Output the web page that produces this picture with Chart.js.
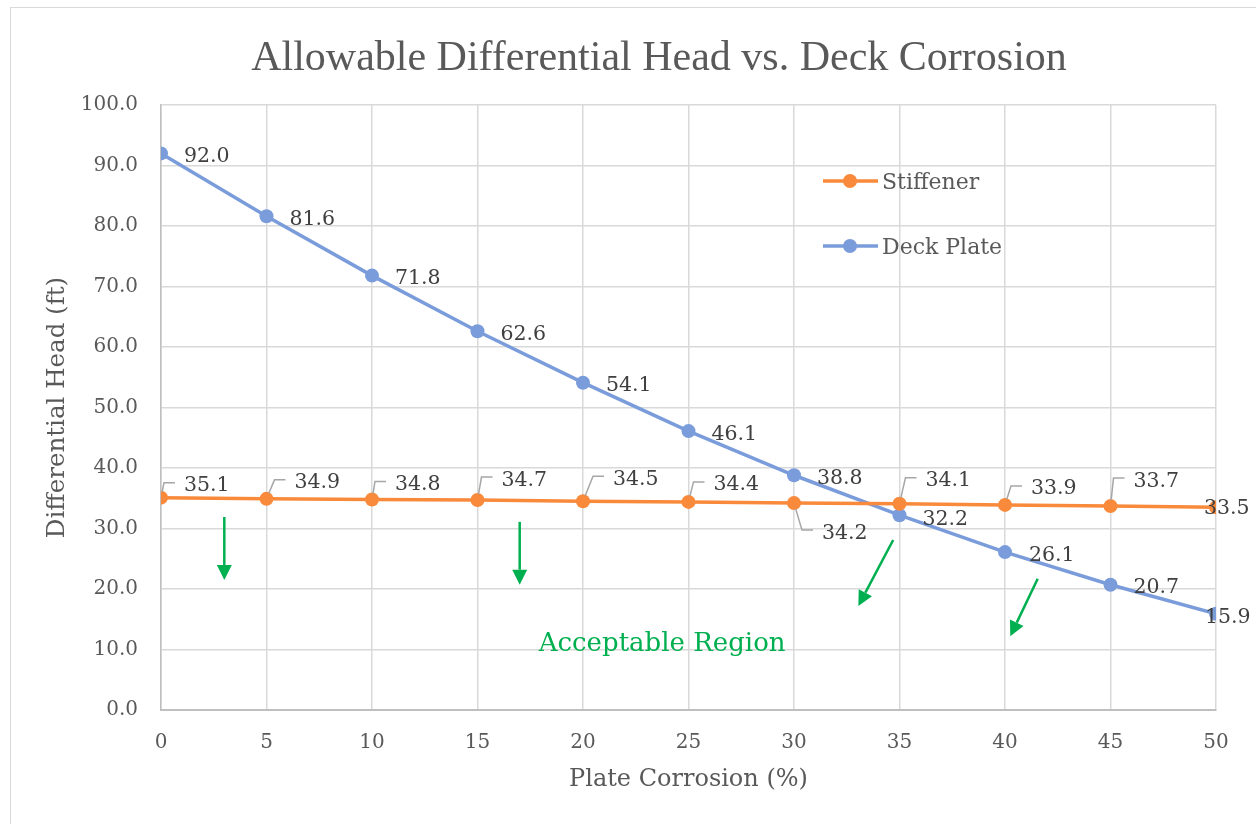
<!DOCTYPE html>
<html>
<head>
<meta charset="utf-8">
<title>Allowable Differential Head vs. Deck Corrosion</title>
<script src="https://cdn.jsdelivr.net/npm/chart.js@4.4.1/dist/chart.umd.min.js"></script>
<style>
  html, body { margin: 0; padding: 0; background: #ffffff; }
  #wrap { position: relative; width: 1256px; height: 824px; overflow: hidden; }
  #frame { position: absolute; left: 10px; top: 7px; width: 1300px; height: 900px;
           border: 1px solid #d9d9d9; box-sizing: border-box; pointer-events: none; }
  #c { position: absolute; left: 0; top: 0; }
</style>
</head>
<body>
<div id="wrap">
  <canvas id="c" width="1256" height="824" style="width:1256px;height:824px"></canvas>
  <div id="frame"></div>
</div>
<script>
// Plate corrosion (%) and the allowable head for each failure mode
const corrosion = [0, 5, 10, 15, 20, 25, 30, 35, 40, 45, 50];
const stiffener = [35.1, 34.9, 34.8, 34.7, 34.5, 34.4, 34.2, 34.1, 33.9, 33.7, 33.5];
const deckPlate = [92.0, 81.6, 71.8, 62.6, 54.1, 46.1, 38.8, 32.2, 26.1, 20.7, 15.9];

// Arrows pointing into the acceptable side of the curves (data coordinates)
const arrowTails = [[3.0, 31.9], [17.0, 31.1], [34.7, 28.1], [41.55, 21.7]];
const arrowTips  = [[3.0, 21.5], [17.0, 20.7], [33.05, 17.2], [40.25, 12.2]];
const regionText = 'Acceptable Region';
const regionAt = [23.75, 10.9];

const chartTitle = 'Allowable Differential Head vs. Deck Corrosion';

const FONT = '"DejaVu Serif", "Liberation Serif", serif';
const ORANGE = '#F98A3C';
const BLUE = '#7A9CDB';
const GREEN = '#00B050';

// Label offsets (px) from each point to the left / middle of its value text
const stiffenerLabelOffsets = [[23, -14], [28, -18], [23, -17], [24, -22], [30, -24], [25, -19],
                               [28, 28], [26, -25], [26, -18], [23, -27], [-12, -1]];
const deckLabelOffsets = [[23, 1], [23, 1], [23, 1], [23, 1], [23, 1], [23, 1],
                          [23, 1], [23, 2], [24, 1.5], [23, 1], [-11, 1.5]];

// Chart heading, centred over the whole frame
const heading = {
  id: 'heading',
  afterDraw(chart) {
    const ctx = chart.ctx;
    ctx.save();
    ctx.font = '42px "Liberation Serif", serif';
    ctx.fillStyle = '#595959';
    ctx.textAlign = 'center';
    ctx.textBaseline = 'alphabetic';
    ctx.fillText(chartTitle, 659, 70);
    ctx.restore();
  }
};

const pointLabels = {
  id: 'pointLabels',
  afterDatasetsDraw(chart, args, opts) {
    const ctx = chart.ctx;
    ctx.save();
    ctx.font = '20.5px ' + FONT;
    ctx.fillStyle = '#404040';
    ctx.textAlign = 'left';
    ctx.textBaseline = 'alphabetic';
    chart.data.datasets.forEach((ds, di) => {
      const meta = chart.getDatasetMeta(di);
      const cfg = opts.series[di];
      meta.data.forEach((pt, i) => {
        const [dx, dy] = cfg.offsets[i];
        const left = pt.x + dx;
        const mid = pt.y + dy;
        const txt = ds.data[i].y.toFixed(1);
        if (cfg.leader && i < meta.data.length - 1) {
          const cx = left - 20, cy = mid - 1;
          const ex = left - 9;
          const vx = cx - pt.x, vy = cy - pt.y;
          const len = Math.hypot(vx, vy);
          const sx = pt.x + vx / len * 6, sy = pt.y + vy / len * 6;
          ctx.save();
          ctx.strokeStyle = '#A6A6A6';
          ctx.lineWidth = 1.5;
          ctx.beginPath();
          ctx.moveTo(sx, sy);
          ctx.lineTo(cx, cy);
          ctx.lineTo(ex, cy);
          ctx.stroke();
          ctx.restore();
        }
        ctx.fillText(txt, left, mid + 7.5);
      });
    });
    ctx.restore();
  }
};

const regionNotes = {
  id: 'regionNotes',
  afterDatasetsDraw(chart) {
    const ctx = chart.ctx;
    const xs = chart.scales.x, ys = chart.scales.y;
    ctx.save();
    ctx.strokeStyle = GREEN;
    ctx.fillStyle = GREEN;
    ctx.lineWidth = 2.5;
    arrowTails.forEach((t, i) => {
      const x1 = xs.getPixelForValue(t[0]), y1 = ys.getPixelForValue(t[1]);
      const x2 = xs.getPixelForValue(arrowTips[i][0]), y2 = ys.getPixelForValue(arrowTips[i][1]);
      const ang = Math.atan2(y2 - y1, x2 - x1);
      const headLen = 15, headHalf = 7.5;
      const bx = x2 - Math.cos(ang) * headLen, by = y2 - Math.sin(ang) * headLen;
      ctx.beginPath();
      ctx.moveTo(x1, y1);
      ctx.lineTo(bx, by);
      ctx.stroke();
      ctx.beginPath();
      ctx.moveTo(x2, y2);
      ctx.lineTo(bx + Math.sin(ang) * headHalf, by - Math.cos(ang) * headHalf);
      ctx.lineTo(bx - Math.sin(ang) * headHalf, by + Math.cos(ang) * headHalf);
      ctx.closePath();
      ctx.fill();
    });
    ctx.font = '26px ' + FONT;
    ctx.textAlign = 'center';
    ctx.textBaseline = 'middle';
    ctx.fillText(regionText, xs.getPixelForValue(regionAt[0]), ys.getPixelForValue(regionAt[1]));
    ctx.restore();
  }
};

// Legend drawn inside the plot area, top right
const innerLegend = {
  id: 'innerLegend',
  afterDraw(chart) {
    const ctx = chart.ctx;
    const ca = chart.chartArea;
    const x0 = ca.left + 662, y0 = ca.top + 76, gap = 65;
    ctx.save();
    chart.data.datasets.forEach((ds, i) => {
      const y = y0 + i * gap;
      ctx.strokeStyle = ds.borderColor;
      ctx.lineWidth = 3.5;
      ctx.beginPath();
      ctx.moveTo(x0, y);
      ctx.lineTo(x0 + 55, y);
      ctx.stroke();
      ctx.fillStyle = ds.backgroundColor;
      ctx.beginPath();
      ctx.arc(x0 + 27, y, 7, 0, Math.PI * 2);
      ctx.fill();
      ctx.fillStyle = '#595959';
      ctx.font = '22px ' + FONT;
      ctx.textAlign = 'left';
      ctx.textBaseline = 'alphabetic';
      ctx.fillText(ds.label, x0 + 59, y + 8);
    });
    ctx.restore();
  }
};

const toPoints = ys => corrosion.map((x, i) => ({ x, y: ys[i] }));

new Chart(document.getElementById('c'), {
  type: 'line',
  data: {
    datasets: [
      { label: 'Stiffener', data: toPoints(stiffener), borderColor: ORANGE, backgroundColor: ORANGE,
        borderWidth: 3.5, pointRadius: 7, pointHoverRadius: 7, pointBorderWidth: 0, tension: 0 },
      { label: 'Deck Plate', data: toPoints(deckPlate), borderColor: BLUE, backgroundColor: BLUE,
        borderWidth: 3.5, pointRadius: 7, pointHoverRadius: 7, pointBorderWidth: 0, tension: 0 }
    ]
  },
  options: {
    responsive: false,
    animation: false,
    devicePixelRatio: 1,
    layout: { padding: { left: 0, right: 40, top: 105, bottom: 0 } },
    plugins: {
      legend: { display: false },
      tooltip: { enabled: false },
      title: { display: false },
      pointLabels: {
        series: [
          { offsets: stiffenerLabelOffsets, leader: true },
          { offsets: deckLabelOffsets, leader: false }
        ]
      }
    },
    scales: {
      x: {
        type: 'linear', min: 0, max: 50,
        ticks: { stepSize: 5, color: '#595959', font: { family: FONT, size: 20 }, padding: 21 },
        grid: { color: '#d9d9d9', lineWidth: 1.5, drawTicks: false },
        border: { color: '#bfbfbf', width: 2 },
        title: { display: true, text: 'Plate Corrosion (%)', color: '#595959',
                 font: { family: FONT, size: 24 }, padding: { top: 0, bottom: 30 } },
        afterFit(scale) { scale.height = 114; }
      },
      y: {
        min: 0, max: 100,
        ticks: { stepSize: 10, color: '#595959', font: { family: FONT, size: 20 }, padding: 23,
                 callback: v => v.toFixed(1) },
        grid: { color: '#d9d9d9', lineWidth: 1.5, drawTicks: false },
        border: { color: '#bfbfbf', width: 1.5 },
        title: { display: true, text: 'Differential Head (ft)', color: '#595959',
                 font: { family: FONT, size: 24.5 }, padding: { top: 43, bottom: 0 } },
        afterFit(scale) { scale.width = 161; }
      }
    }
  },
  plugins: [regionNotes, pointLabels, innerLegend, heading]
});
</script>
</body>
</html>
